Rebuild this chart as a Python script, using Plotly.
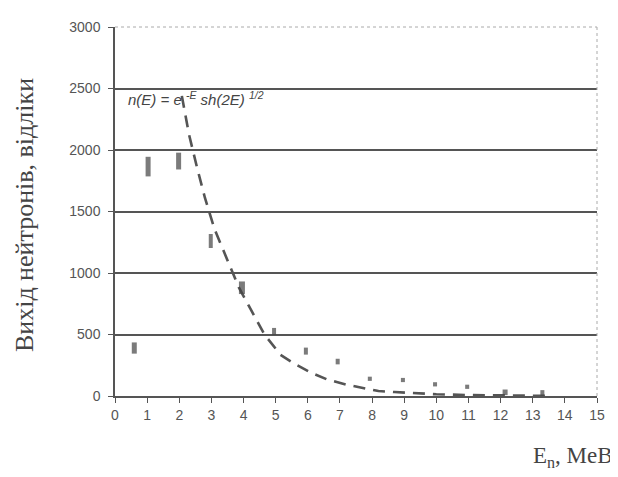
import plotly.graph_objects as go

# measured neutron yield
E_meas = [0.6, 1.03, 1.98, 2.98, 3.95, 4.95, 5.94, 6.93, 7.93, 8.96, 9.96, 10.96, 12.14, 13.3]
N_meas = [390, 1865, 1910, 1260, 880, 525, 365, 280, 140, 130, 95, 75, 30, 25]
M_height = [8, 14, 12, 10, 9, 5, 5, 4, 3, 3, 3, 3, 4, 4]
M_width = [5, 5, 5, 4, 6, 4, 4, 4, 4, 4, 4, 4, 5, 4]

# fitted spectrum n(E)
E_fit = [2.08, 2.3, 2.55, 2.8, 3.1, 3.5, 3.85, 4.17, 4.65, 5.15, 5.6, 6.1, 6.6, 7.2, 7.7,
         8.2, 8.7, 9.25, 10, 11, 12, 13, 13.5]
N_fit = [2440, 2130, 1860, 1610, 1355, 1100, 885, 730, 500, 335, 260, 190, 135, 92, 65,
         40, 32, 24, 14, 8, 4, 2, 1]

x_ticks = list(range(0, 16))
y_ticks = [0, 500, 1000, 1500, 2000, 2500, 3000]

fig = go.Figure()
fig.add_trace(go.Scatter(
    x=E_fit, y=N_fit, mode="lines",
    line=dict(color="#555", width=2.6, dash="12px,8px"),
    hoverinfo="skip", showlegend=False))
fig.add_trace(go.Scatter(
    x=E_meas, y=N_meas, mode="markers",
    marker=dict(symbol="line-ns", size=M_height, color="#444",
                line=dict(color="#444", width=M_width)),
    showlegend=False))

fig.update_layout(
    width=610, height=469,
    margin=dict(l=107, r=21, t=11, b=81),
    paper_bgcolor="white", plot_bgcolor="white",
    font=dict(family="Liberation Sans, Arial", color="#555", size=14),
    xaxis=dict(range=[0, 15], tickvals=x_ticks, ticktext=[str(v) for v in x_ticks],
               showgrid=False, zeroline=False, showline=True, linecolor="#555",
               linewidth=1.5, ticks="outside", ticklen=5, tickcolor="#555",
               tickfont=dict(size=14, color="#555")),
    yaxis=dict(range=[0, 3000], tickvals=y_ticks, ticktext=[str(v) for v in y_ticks],
               showgrid=True, gridcolor="#555", gridwidth=1.5, zeroline=False,
               showline=True, linecolor="#555", linewidth=1.5, ticks="outside",
               ticklen=5, tickcolor="#555", ticklabelstandoff=5,
               tickfont=dict(size=14, color="#555")),
    shapes=[
        dict(type="line", xref="paper", yref="paper", x0=0, x1=1, y0=1, y1=1,
             line=dict(color="white", width=2)),
        dict(type="line", xref="paper", yref="paper", x0=0, x1=1, y0=1, y1=1,
             line=dict(color="#aaa", width=1, dash="dot")),
        dict(type="line", xref="paper", yref="paper", x0=1, x1=1, y0=0, y1=1,
             line=dict(color="#aaa", width=1, dash="dot")),
    ],
    annotations=[
        dict(text="<i>n(E) = e <sup>-E</sup> sh(2E) <sup>1/2</sup></i>",
             xref="paper", yref="paper", x=0.022, y=0.806, xanchor="left", yanchor="middle",
             showarrow=False, font=dict(family="Liberation Sans, Arial", size=15, color="#444")),
        dict(text="Вихід нейтронів, відліки", xref="paper", yref="paper",
             x=-0.189, xanchor="center", y=0.49, yanchor="middle", textangle=-90,
             showarrow=False, font=dict(family="Liberation Serif, Times New Roman", size=26, color="#444")),
        dict(text="E<sub>n</sub>, MeB", xref="paper", yref="paper",
             x=1.037, xanchor="right", y=-0.164, yanchor="middle",
             showarrow=False, font=dict(family="Liberation Serif, Times New Roman", size=23, color="#444")),
    ],
)

fig.write_html("out.html")
